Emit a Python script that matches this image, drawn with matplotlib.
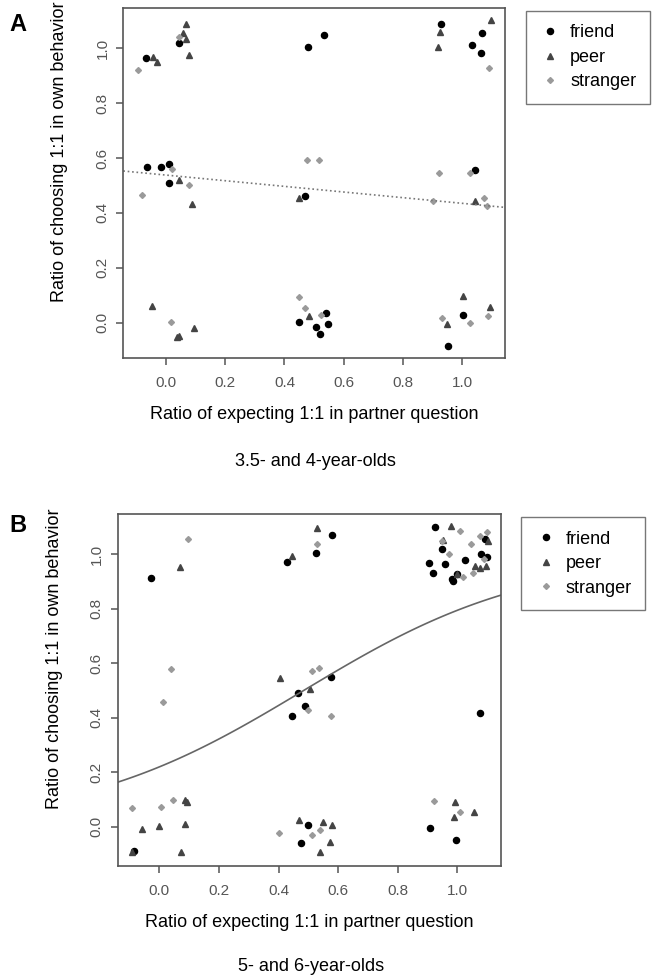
import matplotlib as mpl
mpl.use('Agg')
import matplotlib.pyplot as plt
import numpy as np

plt.rcParams['font.family'] = ['Liberation Sans', 'DejaVu Sans']

# panel A: 3.5- and 4-year-olds
a_friend_x = [-0.067, 0.045, 0.478, 0.533, 0.928, 1.034, 1.068, 1.064,
              -0.063, -0.016, 0.010, 0.011, 0.470, 1.042,
              0.449, 0.540, 0.506, 0.548, 0.520, 0.952, 1.002]
a_friend_y = [0.964, 1.018, 1.004, 1.047, 1.090, 1.013, 1.056, 0.984,
              0.568, 0.568, 0.578, 0.509, 0.463, 0.556,
              0.002, 0.036, -0.015, -0.006, -0.040, -0.084, 0.029]
a_peer_x = [-0.043, -0.029, 0.067, 0.057, 0.069, 0.079, 0.926, 0.918, 1.097,
            0.043, 0.088, 0.449, 1.042,
            -0.046, 0.044, 0.038, 0.096, 0.482, 0.947, 1.002, 1.092]
a_peer_y = [0.967, 0.951, 1.089, 1.055, 1.034, 0.977, 1.061, 1.005, 1.103,
            0.519, 0.433, 0.454, 0.443,
            0.061, -0.049, -0.052, -0.018, 0.023, -0.006, 0.098, 0.058]
a_stranger_x = [-0.096, 0.043, 1.091,
                0.475, 0.517, 0.019, 0.077, -0.082, 0.922, 1.027, 0.902, 1.074, 1.083,
                0.017, 0.448, 0.468, 0.522, 0.930, 1.025, 1.086]
a_stranger_y = [0.921, 1.042, 0.927,
                0.592, 0.592, 0.559, 0.500, 0.465, 0.544, 0.544, 0.444, 0.456, 0.426,
                0.002, 0.093, 0.052, 0.027, 0.018, -0.003, 0.023]
a_fit = (0.538, -0.103)  # linear fit: intercept, slope

# panel B: 5- and 6-year-olds
b_friend_x = [-0.028, 0.429, 0.578, 0.526, 0.925, 0.948, 1.093, 1.080, 1.101, 1.025,
              0.904, 0.959, 0.918, 0.998, 0.981, 0.987,
              0.575, 0.465, 0.489, 0.446, 1.077,
              -0.086, 0.500, 0.476, 0.909, 0.995]
b_friend_y = [0.914, 0.971, 1.071, 1.005, 1.101, 1.021, 1.055, 1.001, 0.991, 0.980,
              0.967, 0.964, 0.932, 0.929, 0.909, 0.903,
              0.549, 0.489, 0.444, 0.405, 0.418,
              -0.089, 0.004, -0.061, -0.004, -0.048]
b_peer_x = [0.069, 0.444, 0.529, 0.979, 1.102, 0.951, 1.060, 1.076, 1.096, 0.998,
            0.404, 0.506,
            0.092, 0.085, -0.060, -0.003, 0.087, -0.092, 0.073,
            0.469, 0.549, 0.581, 0.572, 0.538, 0.993, 0.990, 1.058]
b_peer_y = [0.954, 0.995, 1.097, 1.103, 1.049, 1.053, 0.957, 0.949, 0.956, 0.929,
            0.547, 0.505,
            0.090, 0.097, -0.009, 0.003, 0.009, -0.095, -0.095,
            0.024, 0.017, 0.006, -0.056, -0.094, 0.090, 0.035, 0.052]
b_stranger_x = [0.095, 0.528, 1.010, 1.099, 1.076, 0.948, 1.046, 0.971, 1.091, 1.053, 1.020,
                0.040, 0.511, 0.536, 0.013, 0.500, 0.575,
                -0.093, 0.006, 0.044, 0.403, 0.511, 0.540, 0.922, 1.008]
b_stranger_y = [1.056, 1.038, 1.085, 1.081, 1.067, 1.048, 1.037, 1.001, 0.982, 0.932, 0.917,
                0.580, 0.572, 0.583, 0.456, 0.428, 0.406,
                0.069, 0.073, 0.098, -0.025, -0.030, -0.012, 0.093, 0.052]
b_fit = (-1.27, 2.62)  # logistic fit: intercept, slope

tick_vals = [0.0, 0.2, 0.4, 0.6, 0.8, 1.0]
groups = ['friend', 'peer', 'stranger']
xlab = 'Ratio of expecting 1:1 in partner question'
ylab = 'Ratio of choosing 1:1 in own behavior'

styles = {
  'friend': dict(marker='o', color='#000000', ms=4.4),
  'peer': dict(marker='^', color='#444444', ms=5.0),
  'stranger': dict(marker='D', color='#9a9a9a', ms=3.0),
}

def style_axes(ax, xlim, ylim):
  ax.set_xlim(*xlim)
  ax.set_ylim(*ylim)
  ax.set_xticks(tick_vals)
  ax.set_yticks(tick_vals)
  ax.set_xticklabels(['%.1f' % v for v in tick_vals])
  ax.set_yticklabels(['%.1f' % v for v in tick_vals], rotation=90, va='center')
  ax.tick_params(axis='both', colors='#555555', labelsize=11, length=5, width=1.1)
  ax.tick_params(axis='x', pad=8)
  ax.tick_params(axis='y', pad=5)
  for s in ax.spines.values():
    s.set_color('#555555')
    s.set_linewidth(1.2)
  ax.set_xlabel(xlab, fontsize=13)
  ax.xaxis.set_label_coords(0.5, -0.137)
  ax.set_ylabel(ylab, fontsize=13, va='center')
  ax.yaxis.set_label_coords(-0.166, 0.59)

def draw_points(ax, data):
  handles = []
  for g in groups:
    xs, ys = data[g]
    h, = ax.plot(xs, ys, linestyle='none', label=g, **styles[g])
    handles.append(h)
  return handles

def add_legend(handles, anchor):
  fig.legend(handles=handles, labels=groups, loc='upper left', bbox_to_anchor=anchor,
             frameon=True, fancybox=False, edgecolor='#555555', fontsize=13,
             handletextpad=0.5, borderpad=0.75, labelspacing=0.42, handlelength=1.2,
             borderaxespad=0)

fig = plt.figure(figsize=(6.54, 9.8), dpi=100)

# --- panel A
axA = fig.add_axes([0.1885, 0.6344, 0.5836, 0.3574])
hA = draw_points(axA, {'friend': (a_friend_x, a_friend_y),
                       'peer': (a_peer_x, a_peer_y),
                       'stranger': (a_stranger_x, a_stranger_y)})
xx = np.linspace(-0.144, 1.144, 50)
axA.plot(xx, a_fit[0] + a_fit[1] * xx, linestyle=':', color='#777777', lw=1.2)
style_axes(axA, (-0.144, 1.144), (-0.13, 1.147))
add_legend(hA, (0.804, 0.989))
fig.text(0.015, 0.975, 'A', fontsize=17, fontweight='bold', ha='left', va='center')
fig.text(0.482, 0.529, '3.5- and 4-year-olds', fontsize=13, ha='center', va='center')

# --- panel B
axB = fig.add_axes([0.18, 0.1166, 0.586, 0.3586])
hB = draw_points(axB, {'friend': (b_friend_x, b_friend_y),
                       'peer': (b_peer_x, b_peer_y),
                       'stranger': (b_stranger_x, b_stranger_y)})
xx = np.linspace(-0.14, 1.147, 100)
axB.plot(xx, 1 / (1 + np.exp(-(b_fit[0] + b_fit[1] * xx))), color='#666666', lw=1.2)
style_axes(axB, (-0.14, 1.147), (-0.144, 1.147))
add_legend(hB, (0.797, 0.4724))
fig.text(0.015, 0.464, 'B', fontsize=17, fontweight='bold', ha='left', va='center')
fig.text(0.476, 0.014, '5- and 6-year-olds', fontsize=13, ha='center', va='center')

fig.savefig('out.png', dpi=100)
